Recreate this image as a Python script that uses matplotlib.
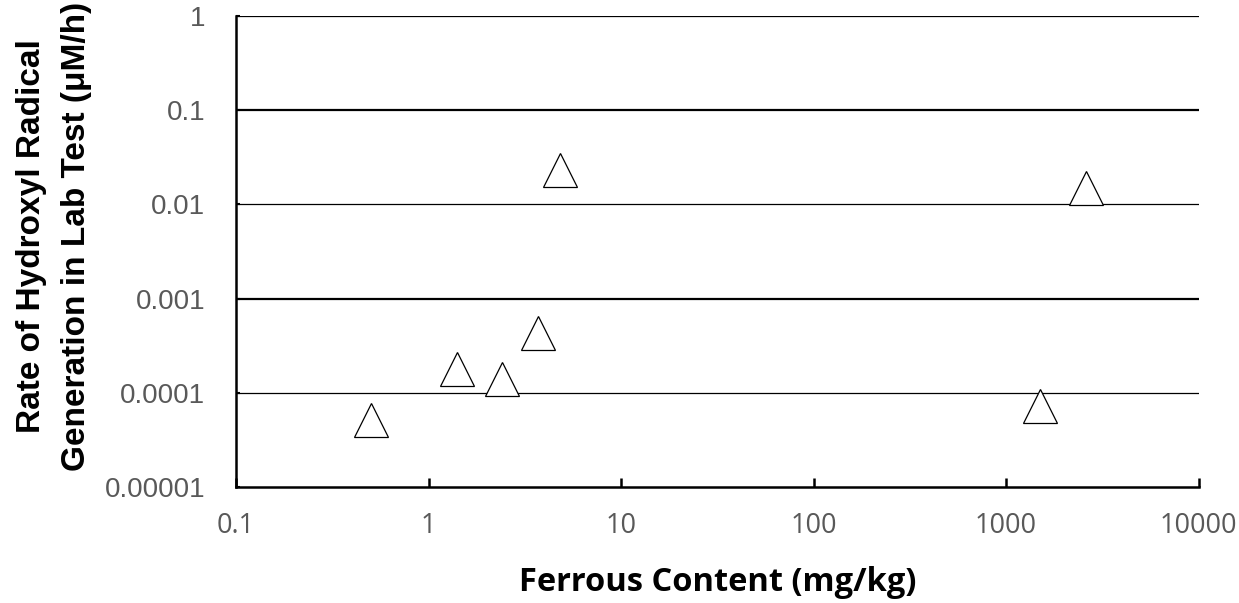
import matplotlib
matplotlib.use("Agg")
import matplotlib.pyplot as plt
from matplotlib.ticker import FixedLocator, NullLocator

# Data
ferrous_content = [0.5, 1.40, 2.40, 3.72, 4.80, 2590, 1493]
oh_rate = [5.2e-5, 1.80e-4, 1.41e-4, 4.35e-4, 0.0232, 0.0150, 7.3e-5]
x_ticks = [0.1, 1, 10, 100, 1000, 10000]
x_tick_labels = ["0.1", "1", "10", "100", "1000", "10000"]
y_ticks = [1e-5, 1e-4, 1e-3, 1e-2, 1e-1, 1]
y_tick_labels = ["0.00001", "0.0001", "0.001", "0.01", "0.1", "1"]

W, H = 1239, 603
fig = plt.figure(figsize=(W/100, H/100), dpi=100)
ax = fig.add_axes([236/W, 1-487/H, (1198.5-236)/W, (487-16)/H])

ax.set_xscale("log")
ax.set_yscale("log")
ax.set_xlim(0.1, 10000)
ax.set_ylim(1e-5, 1)

# horizontal gridlines
thick = {1e-1, 1e-3}
for yv in y_ticks[1:]:
    ax.axhline(yv, color="black", lw=1.6 if yv in thick else 0.9, zorder=1)

ax.plot(ferrous_content, oh_rate, linestyle="none", marker="^", markersize=25,
        markerfacecolor="white", markeredgecolor="black", markeredgewidth=0.9, zorder=3)

for s in ["top", "right"]:
    ax.spines[s].set_visible(False)
for s in ["left", "bottom"]:
    ax.spines[s].set_linewidth(1.8)
    ax.spines[s].set_color("black")

ax.xaxis.set_major_locator(FixedLocator(x_ticks))
ax.xaxis.set_minor_locator(NullLocator())
ax.yaxis.set_major_locator(FixedLocator(y_ticks))
ax.yaxis.set_minor_locator(NullLocator())
ax.set_xticklabels(x_tick_labels, fontsize=19.5, color="#595959", family="Open Sans")
ax.set_yticklabels(y_tick_labels, fontsize=20, color="#595959", family="Liberation Sans")
ax.tick_params(axis="x", direction="in", length=6.5, width=1.8, pad=18)
ax.tick_params(axis="y", direction="in", length=3, width=1.5, pad=22)

ax.set_xlabel("Ferrous Content (mg/kg)", fontsize=23.5, fontweight="bold",
              family="Open Sans", labelpad=19)
fig.text(54/W, 1-236/H, "Rate of Hydroxyl Radical\nGeneration in Lab Test (μM/h)",
         rotation=90, ha="center", va="center", multialignment="center",
         fontsize=24, fontweight="bold", family="Liberation Sans", linespacing=1.6)

fig.savefig("out.png", dpi=100)
